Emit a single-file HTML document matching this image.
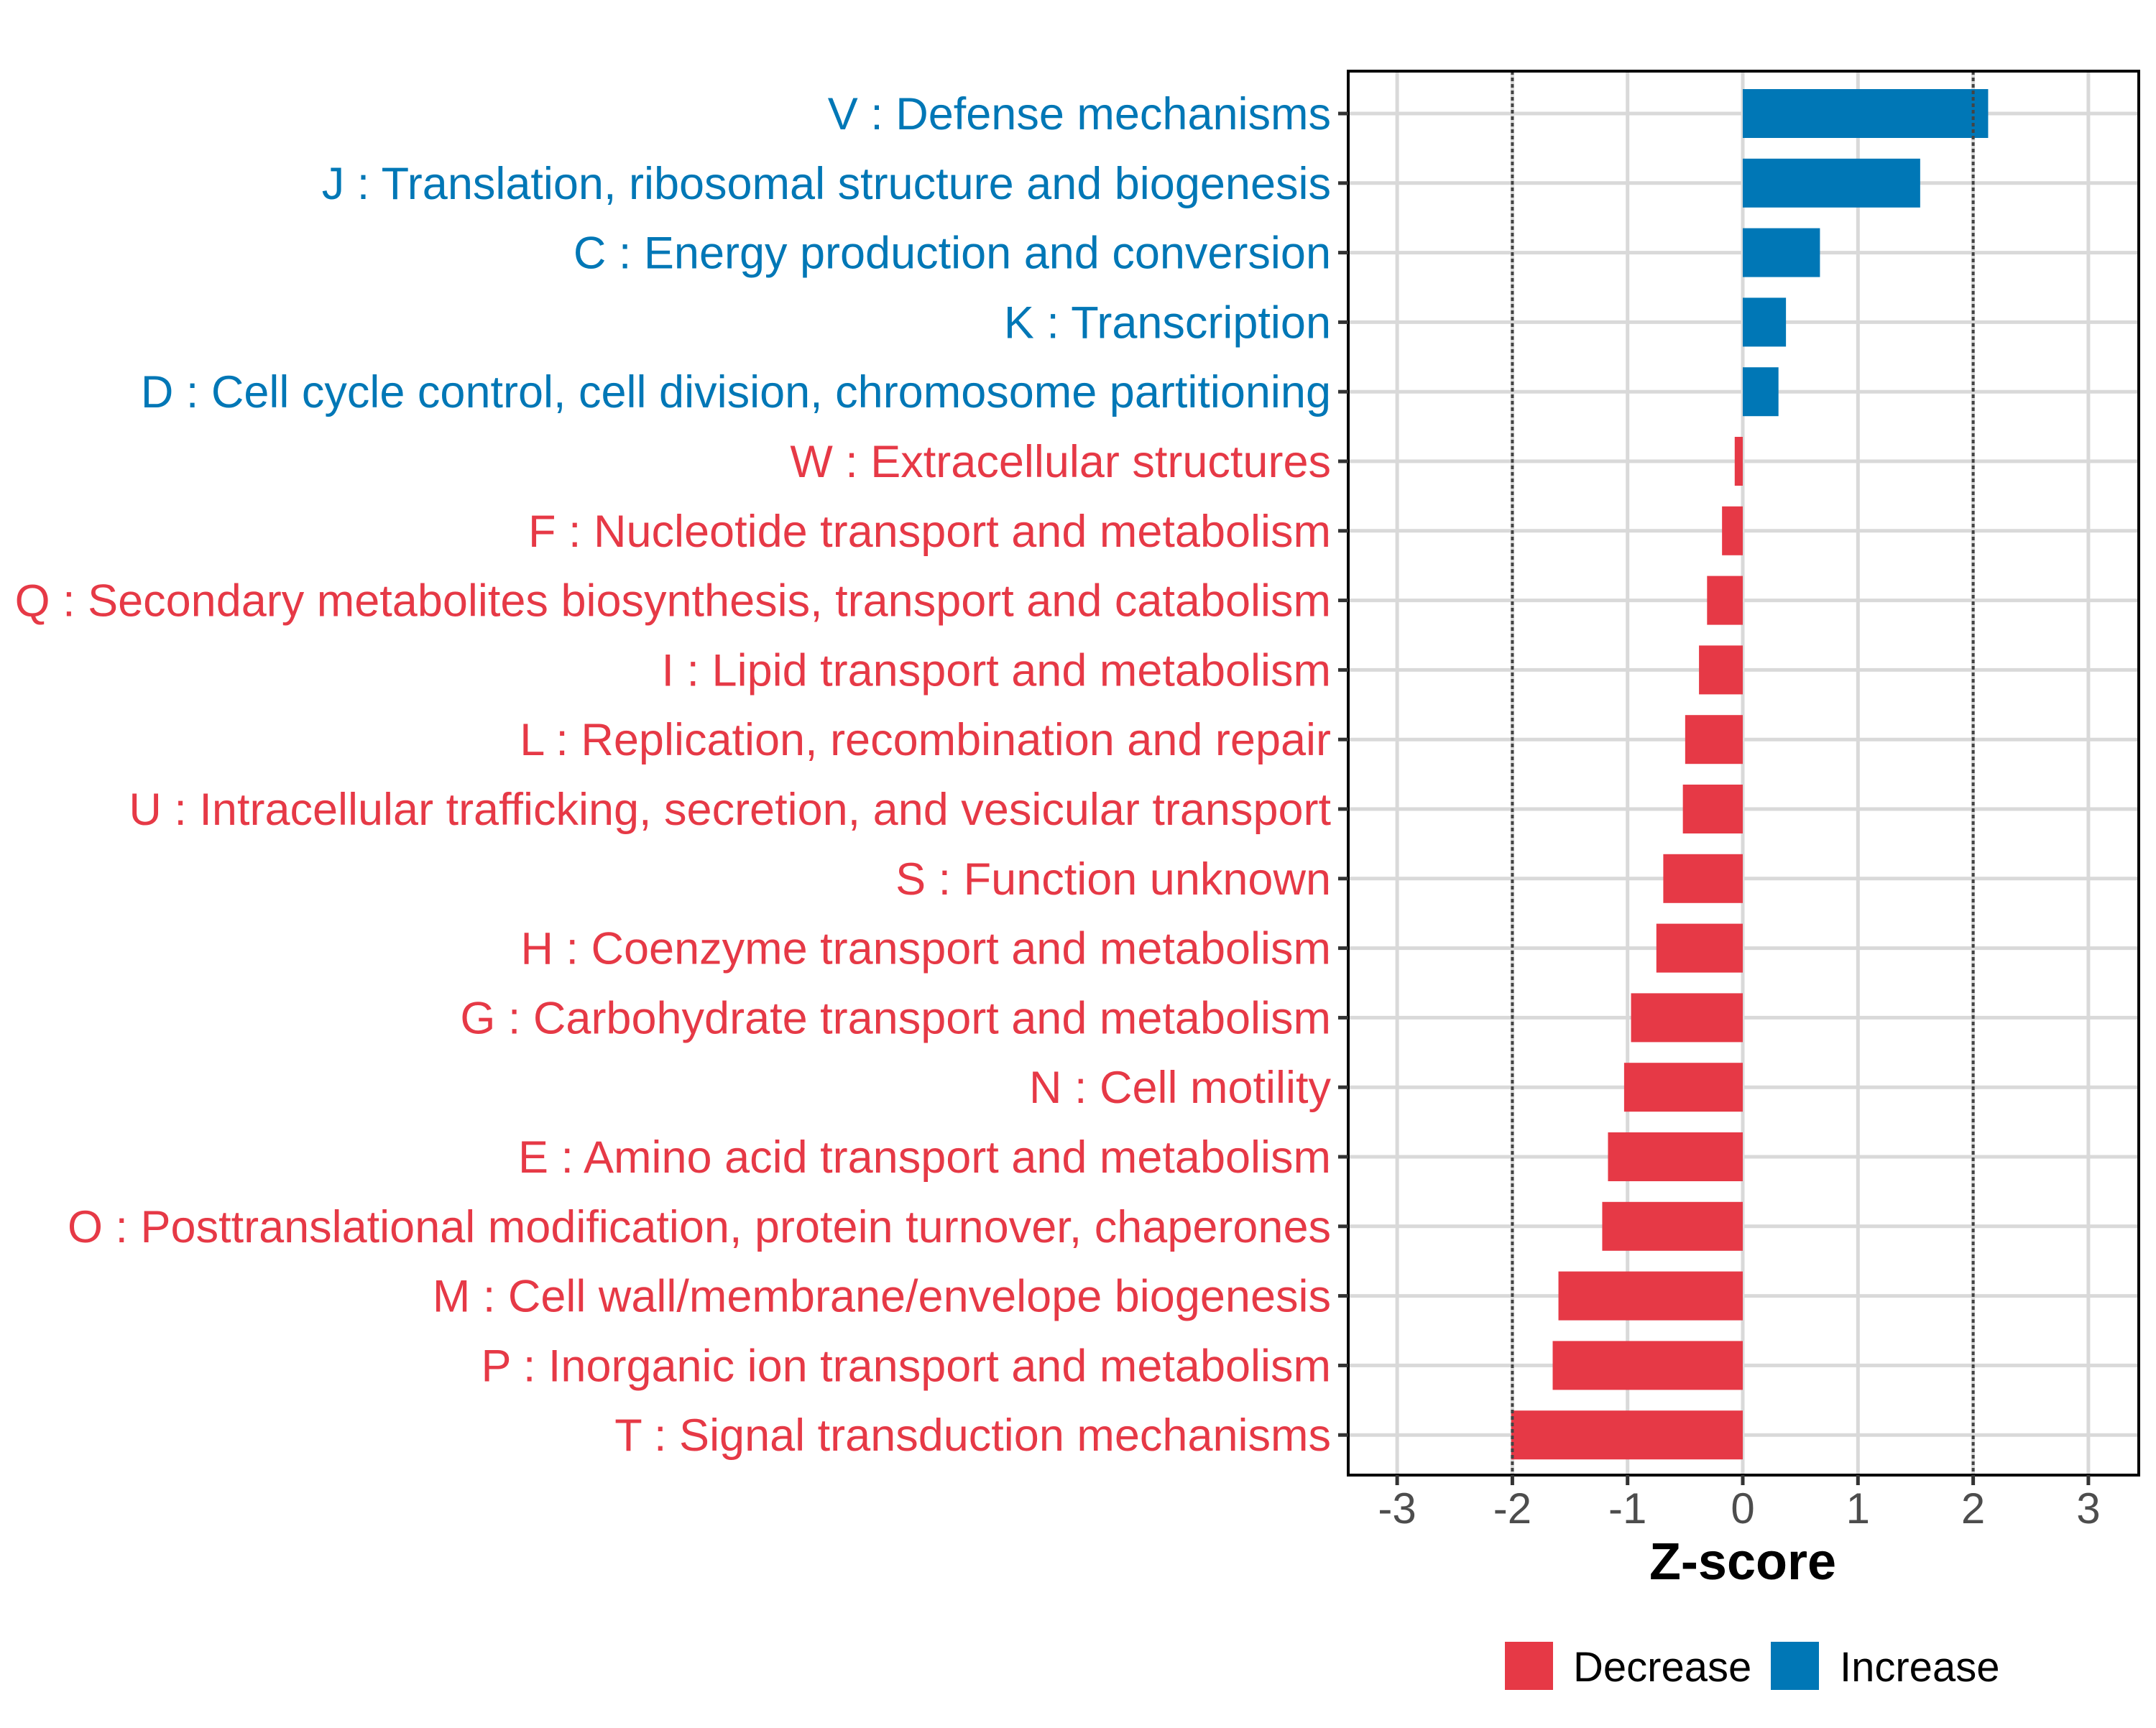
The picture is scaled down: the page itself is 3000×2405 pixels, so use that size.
<!DOCTYPE html>
<html><head><meta charset="utf-8"><style>
html,body{margin:0;padding:0;background:#fff;}
svg text{font-family:"Liberation Sans",Arial,sans-serif;}
</style></head><body>
<svg id="chart" width="3000" height="2400" viewBox="0 0 3000 2400" xmlns="http://www.w3.org/2000/svg">
<rect width="3000" height="2400" fill="#fff"/>
<g id="grid"></g>
<g id="bars"></g>
<g id="ref"></g>
<rect x="1876" y="99" width="1100" height="1954" fill="none" stroke="#000" stroke-width="4"/>
<g id="ylabels"></g>
<g id="xaxis"></g>
<text x="2425" y="2198" text-anchor="middle" font-size="72" font-weight="bold" fill="#000">Z-score</text>
<g>
<rect x="2094" y="2285" width="67" height="67" fill="#E63946"/>
<text x="2189" y="2340" font-size="58" fill="#000">Decrease</text>
<rect x="2464" y="2285" width="67" height="67" fill="#0077B6"/>
<text x="2560" y="2340" font-size="58" fill="#000">Increase</text>
</g>
</svg>
<script>
const categories = ["V : Defense mechanisms","J : Translation, ribosomal structure and biogenesis","C : Energy production and conversion","K : Transcription","D : Cell cycle control, cell division, chromosome partitioning","W : Extracellular structures","F : Nucleotide transport and metabolism","Q : Secondary metabolites biosynthesis, transport and catabolism","I : Lipid transport and metabolism","L : Replication, recombination and repair","U : Intracellular trafficking, secretion, and vesicular transport","S : Function unknown","H : Coenzyme transport and metabolism","G : Carbohydrate transport and metabolism","N : Cell motility","E : Amino acid transport and metabolism","O : Posttranslational modification, protein turnover, chaperones","M : Cell wall/membrane/envelope biogenesis","P : Inorganic ion transport and metabolism","T : Signal transduction mechanisms"];
const zscores = [2.13,1.54,0.67,0.375,0.31,-0.07,-0.18,-0.31,-0.38,-0.50,-0.52,-0.69,-0.75,-0.97,-1.03,-1.17,-1.22,-1.60,-1.65,-2.01];
const xTicks = [-3,-2,-1,0,1,2,3];
const xTickLabels = ["-3","-2","-1","0","1","2","3"];
const refLines = [-2,2];

const NS="http://www.w3.org/2000/svg";
const px0=2425, unit=160.3, py0=158, rowStep=96.8, barH=68;
const panelL=1876, panelR=2976, panelT=99, panelB=2053;
function xs(v){return px0+v*unit;}
function ys(i){return py0+i*rowStep;}
function mk(tag,attrs,parent){const e=document.createElementNS(NS,tag);for(const k in attrs)e.setAttribute(k,attrs[k]);parent.appendChild(e);return e;}
const grid=document.getElementById('grid'),bars=document.getElementById('bars'),ref=document.getElementById('ref'),yl=document.getElementById('ylabels'),xa=document.getElementById('xaxis');
xTicks.forEach((t,i)=>{
  const l=mk('line',{x1:xs(t),x2:xs(t),y1:panelT,y2:panelB,stroke:'#d9d9d9','stroke-width':5},grid);
  
  
  const tk=mk('line',{x1:xs(t),x2:xs(t),y1:panelB,y2:panelB+14,stroke:'#333','stroke-width':5},xa);
  
  
  const tx=mk('text',{x:xs(t),y:2120,'text-anchor':'middle','font-size':60,fill:'#4d4d4d'},xa);
  tx.textContent=xTickLabels[i];
  
  
});
categories.forEach((c,i)=>{
  const y=ys(i);
  const g=mk('line',{x1:panelL,x2:panelR,y1:y,y2:y,stroke:'#d9d9d9','stroke-width':5},grid);
  
  
  const v=zscores[i];
  const col=v>=0?'#0077B6':'#E63946';
  const b=mk('rect',{x:Math.min(xs(0),xs(v)),y:y-barH/2,width:Math.abs(xs(v)-xs(0)),height:barH,fill:col},bars);
  
  
  const tk=mk('line',{x1:panelL-14,x2:panelL,y1:y,y2:y,stroke:'#333','stroke-width':5},yl);
  
  
  const t=mk('text',{x:1852,y:y+22,'text-anchor':'end','font-size':63,fill:col},yl);
  t.textContent=c;
  
  
});
refLines.forEach(r=>{
  const l=mk('line',{x1:xs(r),x2:xs(r),y1:panelT,y2:panelB,stroke:'#444','stroke-width':4,'stroke-dasharray':'5 4'},ref);
  
  
});
</script>
</body></html>
